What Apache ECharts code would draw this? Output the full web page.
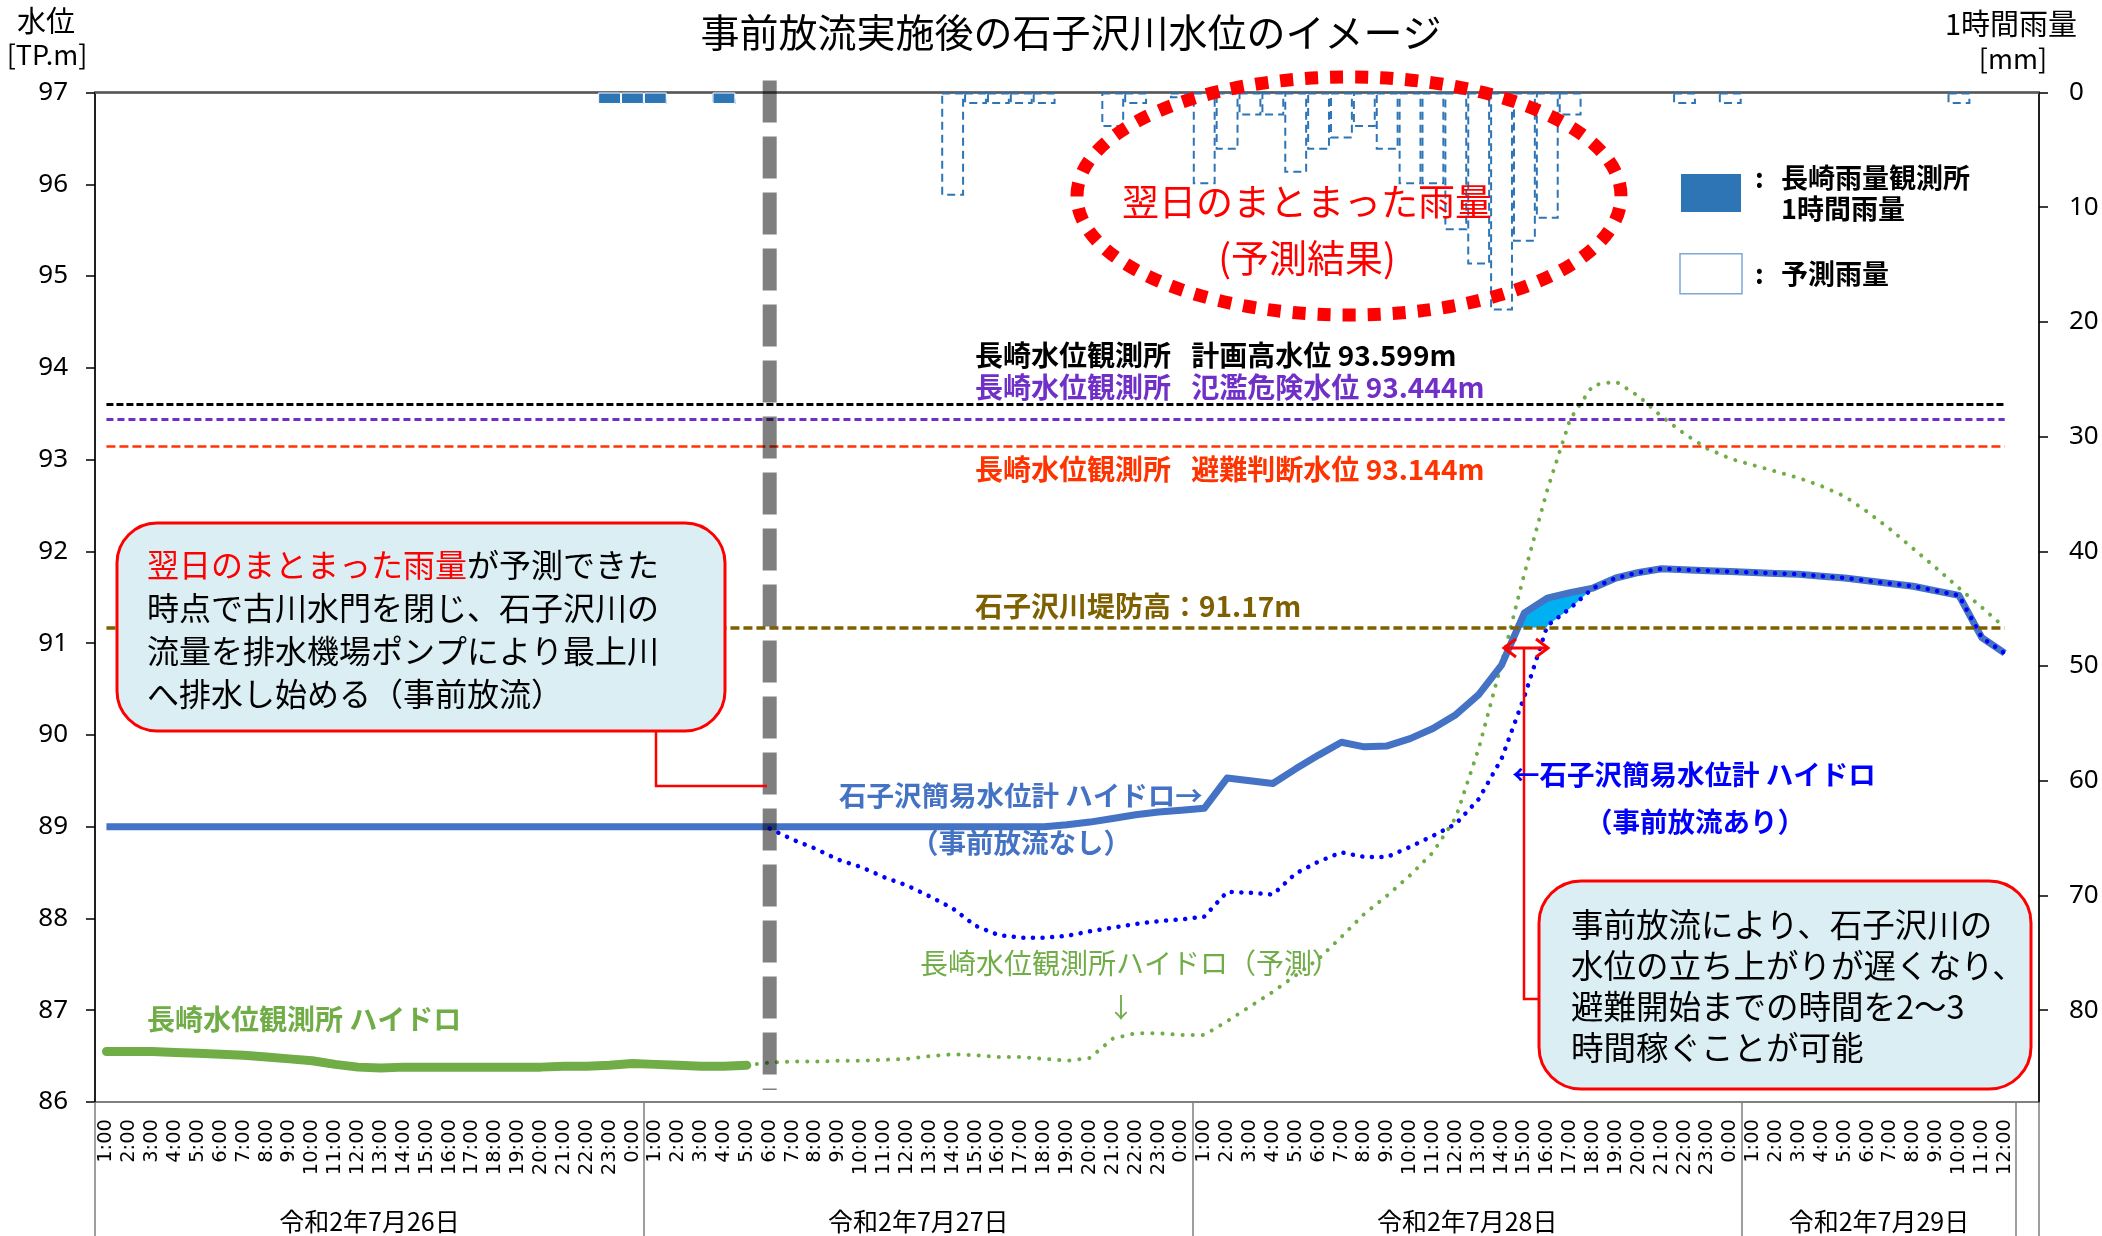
<!DOCTYPE html>
<html>
<head>
<meta charset="utf-8">
<title>事前放流実施後の石子沢川水位のイメージ</title>
<script src="https://cdn.jsdelivr.net/npm/echarts@6/dist/echarts.min.js"></script>
<style>
  html, body { margin: 0; padding: 0; background: #fff; }
  #chart { width: 2102px; height: 1236px; }
</style>
</head>
<body>
<div id="chart"></div>
<script>
// ---- data ----
const hours = [
  "1:00", "2:00", "3:00", "4:00", "5:00", "6:00", "7:00", "8:00", "9:00", "10:00", "11:00", "12:00",
  "13:00", "14:00", "15:00", "16:00", "17:00", "18:00", "19:00", "20:00", "21:00", "22:00", "23:00", "0:00"
];
// 7/26 - 7/28 full days, 7/29 up to 12:00, plus one empty slot at the right edge
const categories = [...hours, ...hours, ...hours, ...hours.slice(0, 12), ""];
const dayLabels = ["令和2年7月26日", "令和2年7月27日", "令和2年7月28日", "令和2年7月29日"];
const dayLabelIndex = [11, 35, 59, 77];
const dayBoundaryIndex = [0, 24, 48, 72, 84];
const releaseIndex = 29; // 7/27 6:00 事前放流開始

const yLeftTicks = [86, 97, 1];
const yRightTicks = [0, 88, 10];

const dikeHeight = 91.17;
const planHighWater = 93.599;
const dangerWater = 93.444;
const evacWater = 93.144;

// 長崎雨量観測所 1時間雨量 (mm)
const rainObserved = [
  null, null, null, null, null, null, null, null, null, null, null, null,
  null, null, null, null, null, null, null, null, null, null, 1, 1,
  1, null, null, 1, null, null, null, null, null, null, null, null,
  null, null, null, null, null, null, null, null, null, null, null, null,
  null, null, null, null, null, null, null, null, null, null, null, null,
  null, null, null, null, null, null, null, null, null, null, null, null,
  null, null, null, null, null, null, null, null, null, null, null, null,
  null
];
// 予測雨量 (mm)
const rainForecast = [
  null, null, null, null, null, null, null, null, null, null, null, null,
  null, null, null, null, null, null, null, null, null, null, 1, 1,
  1, null, null, 1, null, null, null, null, null, null, null, null,
  null, 9, 1, 1, 1, 1, null, null, 3, 1, null, 0.5,
  8, 5, 2, 2, 7, 5, 4, 3, 5, 8, 8, 12,
  15, 19, 13, 11, 2, null, null, null, null, 1, null, 1,
  null, null, null, null, null, null, null, null, null, 1, null, null,
  null
];
// 長崎水位観測所 ハイドロ (実績)
const levelNagasakiObs = [
  86.55, 86.55, 86.55, 86.54, 86.53, 86.52, 86.51, 86.49, 86.47, 86.45, 86.41, 86.38,
  86.37, 86.38, 86.38, 86.38, 86.38, 86.38, 86.38, 86.38, 86.39, 86.39, 86.40, 86.42,
  86.41, 86.40, 86.39, 86.39, 86.40, null, null, null, null, null, null, null,
  null, null, null, null, null, null, null, null, null, null, null, null,
  null, null, null, null, null, null, null, null, null, null, null, null,
  null, null, null, null, null, null, null, null, null, null, null, null,
  null, null, null, null, null, null, null, null, null, null, null, null,
  null
];
// 長崎水位観測所ハイドロ (予測)
const levelNagasakiPred = [
  null, null, null, null, null, null, null, null, null, null, null, null,
  null, null, null, null, null, null, null, null, null, null, null, null,
  null, null, null, null, 86.40, 86.43, 86.44, 86.44, 86.45, 86.45, 86.46, 86.47,
  86.50, 86.52, 86.51, 86.49, 86.49, 86.47, 86.45, 86.48, 86.69, 86.75, 86.75, 86.73,
  86.73, 86.88, 87.04, 87.20, 87.38, 87.56, 87.80, 88.05, 88.25, 88.47, 88.72, 89.10,
  89.85, 90.78, 91.76, 92.67, 93.44, 93.81, 93.85, 93.69, 93.47, 93.28, 93.12, 93.01,
  92.94, 92.87, 92.80, 92.71, 92.60, 92.43, 92.24, 92.03, 91.82, 91.60, 91.39, 91.17,
  null
];
// 石子沢簡易水位計 ハイドロ (事前放流なし)
const levelNoRelease = [
  89.0, 89.0, 89.0, 89.0, 89.0, 89.0, 89.0, 89.0, 89.0, 89.0, 89.0, 89.0,
  89.0, 89.0, 89.0, 89.0, 89.0, 89.0, 89.0, 89.0, 89.0, 89.0, 89.0, 89.0,
  89.0, 89.0, 89.0, 89.0, 89.0, 89.0, 89.0, 89.0, 89.0, 89.0, 89.0, 89.0,
  89.0, 89.0, 89.0, 89.0, 89.0, 89.0, 89.02, 89.05, 89.09, 89.13, 89.16, 89.18,
  89.20, 89.53, 89.50, 89.47, 89.63, 89.78, 89.92, 89.87, 89.88, 89.96, 90.07, 90.22,
  90.44, 90.76, 91.33, 91.49, 91.55, 91.60, 91.71, 91.77, 91.81, 91.80, 91.79, 91.78,
  91.77, 91.76, 91.75, 91.73, 91.71, 91.68, 91.65, 91.62, 91.57, 91.52, 91.06, 90.89,
  null
];
// 石子沢簡易水位計 ハイドロ (事前放流あり)
const levelWithRelease = [
  null, null, null, null, null, null, null, null, null, null, null, null,
  null, null, null, null, null, null, null, null, null, null, null, null,
  null, null, null, null, null, 88.98, 88.86, 88.76, 88.64, 88.56, 88.45, 88.36,
  88.24, 88.11, 87.92, 87.82, 87.79, 87.79, 87.81, 87.86, 87.90, 87.94, 87.97, 87.99,
  88.02, 88.29, 88.28, 88.26, 88.49, 88.62, 88.72, 88.67, 88.67, 88.78, 88.90, 89.03,
  89.30, 89.74, 90.42, 91.19, 91.38, 91.60, 91.71, 91.77, 91.81, 91.80, 91.79, 91.78,
  91.77, 91.76, 91.75, 91.73, 91.71, 91.68, 91.65, 91.62, 91.57, 91.52, 91.06, 90.89,
  null
];

// ---- chart ----
const FONT = '"Noto Sans CJK JP", "Noto Sans", sans-serif';
const chart = echarts.init(document.getElementById("chart"), null, { renderer: "canvas" });

function label(text, x, y, color, size, weight, align) {
  return {
    type: "text", x: x, y: y, z: 100, silent: true,
    style: {
      text: text, fill: color, fontSize: size, fontWeight: weight || "normal",
      fontFamily: FONT, align: align || "left", verticalAlign: "middle"
    }
  };
}

// cyan area: part of the no-release curve above the dike and above the release curve
function renderOverflow(params, api) {
  const s = levelNoRelease, d = levelWithRelease, k = dikeHeight;
  const pt = (i, v) => api.coord([i, v]);
  const lerp = (a, b, t) => [a[0] + (b[0] - a[0]) * t, a[1] + (b[1] - a[1]) * t];
  let j = releaseIndex;
  while (!(s[j] < k && s[j + 1] >= k)) j++;
  const start = lerp(pt(j, s[j]), pt(j + 1, s[j + 1]), (k - s[j]) / (s[j + 1] - s[j]));
  let m = releaseIndex;
  while (!(d[m] < k && d[m + 1] >= k)) m++;
  const cross = lerp(pt(m, d[m]), pt(m + 1, d[m + 1]), (k - d[m]) / (d[m + 1] - d[m]));
  let e = m + 1;
  while (d[e] < s[e]) e++;
  const points = [start];
  for (let i = j + 1; i <= e; i++) points.push(pt(i, s[i]));
  for (let i = e - 1; i > m; i--) points.push(pt(i, d[i]));
  points.push(cross);
  return { type: "polygon", shape: { points: points }, style: { fill: "#00B0F0" } };
}

// gray dashed line at the release time
function renderReleaseLine(params, api) {
  const p1 = api.coord([releaseIndex, 97.13]);
  const p2 = api.coord([releaseIndex, 86.13]);
  return {
    type: "line",
    shape: { x1: p1[0], y1: p1[1], x2: p2[0], y2: p2[1] },
    style: { stroke: "rgba(0,0,0,0.5)", lineWidth: 14, lineDash: [42, 14] }
  };
}

function refLine(value, color, width, dash) {
  return [
    { coord: [0, value], lineStyle: { color: color, width: width, type: dash } },
    { coord: [83, value] }
  ];
}

const legendRich = {
  c: { width: 26, padding: [0, 0, 0, 8], align: "left", fontSize: 27, fontWeight: "bold", fontFamily: FONT, color: "#000" },
  t: { align: "left", fontSize: 27, fontWeight: "bold", fontFamily: FONT, color: "#000", lineHeight: 31 }
};

chart.setOption({
  animation: false,
  backgroundColor: "#fff",
  textStyle: { fontFamily: FONT },
  title: {
    text: "事前放流実施後の石子沢川水位のイメージ",
    left: 1071, top: 13, textAlign: "center", padding: 0,
    textStyle: { fontSize: 39, fontWeight: "normal", color: "#000", fontFamily: FONT }
  },
  legend: {
    data: [
      { name: "長崎雨量観測所1時間雨量" },
      { name: "予測雨量", itemStyle: { color: "#fff", borderColor: "#7FA7D6", borderWidth: 1.5, borderType: "solid" } }
    ],
    left: 1674, top: 157, orient: "vertical", icon: "rect",
    itemWidth: 62, itemHeight: 40, itemGap: 29, selectedMode: false,
    formatter: function (name) {
      return name === "予測雨量" ? "{c|:}{t|予測雨量}" : "{c|:}{t|長崎雨量観測所}\n{c|\u00a0}{t|1時間雨量}";
    },
    textStyle: { fontSize: 27, fontWeight: "bold", color: "#000", lineHeight: 31, align: "left", rich: legendRich }
  },
  grid: { left: 95, right: 63, top: 92.5, bottom: 134, show: true, borderColor: "#808080", borderWidth: 2, containLabel: false, outerBoundsMode: "none" },
  xAxis: [
    {
      type: "category", data: categories, position: "bottom", boundaryGap: true,
      axisLine: { lineStyle: { color: "#595959", width: 2.5 } },
      axisTick: { show: false },
      axisLabel: { interval: 0, rotate: 90, margin: 17, fontSize: 19.5, fontFamily: "DejaVu Sans", color: "#000" },
      splitLine: { show: false }
    },
    {
      type: "category", data: categories, position: "bottom", boundaryGap: true,
      axisLine: { show: false },
      axisTick: {
        show: true, length: 134,
        interval: function (i) { return dayBoundaryIndex.indexOf(i) >= 0; },
        lineStyle: { color: "#7f7f7f", width: 1.5 }
      },
      axisLabel: {
        interval: function (i) { return dayLabelIndex.indexOf(i) >= 0; },
        formatter: function (v, i) { return dayLabels[dayLabelIndex.indexOf(i)]; },
        margin: 107, fontSize: 25, color: "#000", fontFamily: FONT, padding: [0, 0, 0, 22.87]
      },
      splitLine: { show: false }
    }
  ],
  yAxis: [
    {
      type: "value", position: "left", min: yLeftTicks[0], max: yLeftTicks[1], interval: yLeftTicks[2],
      axisLine: { show: true, lineStyle: { color: "#000", width: 1.5 } },
      axisTick: { show: true, length: 9, lineStyle: { color: "#000", width: 1.5 } },
      axisLabel: { margin: 27, fontSize: 26, fontFamily: "Noto Sans", color: "#000" },
      splitLine: { show: false }
    },
    {
      type: "value", position: "right", inverse: true, min: yRightTicks[0], max: yRightTicks[1], interval: yRightTicks[2],
      axisLine: { show: true, lineStyle: { color: "#000", width: 1.5 } },
      axisTick: { show: true, length: 9, lineStyle: { color: "#000", width: 1.5 } },
      axisLabel: { margin: 30, fontSize: 26, fontFamily: "Noto Sans", color: "#000", showMaxLabel: false },
      splitLine: { show: false }
    }
  ],
  series: [
    {
      name: "予測雨量", type: "bar", xAxisIndex: 0, yAxisIndex: 1, data: rainForecast,
      barWidth: "100%", barGap: "-100%", silent: true,
      itemStyle: { color: "rgba(255,255,255,0)", borderColor: "#2E75B6", borderWidth: 2, borderType: [8, 5] }
    },
    {
      name: "長崎雨量観測所1時間雨量", type: "bar", xAxisIndex: 0, yAxisIndex: 1, data: rainObserved,
      barWidth: "100%", barGap: "-100%", silent: true,
      itemStyle: { color: "#2E75B6", borderColor: "#fff", borderWidth: 1 }
    },
    {
      type: "custom", xAxisIndex: 0, yAxisIndex: 0, data: [[0, 0]], silent: true,
      renderItem: renderOverflow, z: 2
    },
    {
      name: "長崎水位観測所 ハイドロ", type: "line", data: levelNagasakiObs, symbol: "none", silent: true,
      lineStyle: { color: "#70AD47", width: 9, cap: "round", join: "round" },
      markLine: {
        silent: true, symbol: ["none", "none"], label: { show: false },
        data: [
          refLine(planHighWater, "#000", 3, [7, 3]),
          refLine(dangerWater, "#7030C8", 3, [7, 4]),
          refLine(evacWater, "#FF3300", 2.5, [9, 4]),
          refLine(dikeHeight, "#7F6000", 3.5, [9, 4])
        ]
      }
    },
    {
      name: "長崎水位観測所ハイドロ（予測）", type: "line", data: levelNagasakiPred, symbol: "none", silent: true,
      lineStyle: { color: "#70AD47", width: 4, type: [0.1, 10], cap: "round" }
    },
    {
      name: "石子沢簡易水位計 ハイドロ（事前放流なし）", type: "line", data: levelNoRelease, symbol: "none", silent: true,
      lineStyle: { color: "#4472C4", width: 7, join: "round" }
    },
    {
      name: "石子沢簡易水位計 ハイドロ（事前放流あり）", type: "line", data: levelWithRelease, symbol: "none", silent: true,
      lineStyle: { color: "#0000FF", width: 4.5, type: [0.1, 9.5], cap: "round" }
    },
    {
      type: "custom", xAxisIndex: 0, yAxisIndex: 0, data: [[releaseIndex, 89]], silent: true,
      renderItem: renderReleaseLine, z: 5
    }
  ],
  graphic: [
    label("水位", 46, 21, "#000", 29, "normal", "center"),
    label("[TP.m]", 47, 55, "#000", 27, "normal", "center"),
    label("1時間雨量", 2011, 24, "#000", 29, "normal", "center"),
    label("[mm]", 2013, 59, "#000", 27, "normal", "center"),

    {
      type: "ellipse", z: 90, silent: true,
      shape: { cx: 1349, cy: 196, rx: 272, ry: 119 },
      style: { fill: "none", stroke: "#FF0000", lineWidth: 13, lineDash: [13, 12] }
    },
    label("翌日のまとまった雨量", 1307, 202, "#FF0000", 37, "normal", "center"),
    label("(予測結果)", 1307, 258, "#FF0000", 38, "normal", "center"),

    label("長崎水位観測所\u2002 計画高水位 93.599m", 975, 355, "#000", 28, "bold"),
    label("長崎水位観測所\u2002 氾濫危険水位 93.444m", 975, 387, "#7030C8", 28, "bold"),
    label("長崎水位観測所\u2002 避難判断水位 93.144m", 975, 469, "#FF3300", 28, "bold"),
    label("石子沢川堤防高：91.17m", 975, 606, "#7F6000", 28, "bold"),

    label("石子沢簡易水位計 ハイドロ→", 839, 796, "#4472C4", 27.5, "bold"),
    label("（事前放流なし）", 911, 843, "#4472C4", 27.5, "bold"),
    label("←石子沢簡易水位計 ハイドロ", 1512, 775, "#0000FF", 27.5, "bold"),
    label("（事前放流あり）", 1585, 822, "#0000FF", 27.5, "bold"),
    label("長崎水位観測所ハイドロ（予測）", 920, 963, "#70AD47", 28, "normal"),
    label("↓", 1121, 1008, "#70AD47", 27, "normal", "center"),
    label("長崎水位観測所 ハイドロ", 147, 1019, "#70AD47", 28, "bold"),

    // left callout
    {
      type: "polyline", z: 95, silent: true,
      shape: { points: [[656, 731], [656, 786], [767, 786]] },
      style: { stroke: "#FF0000", lineWidth: 2.5, fill: "none" }
    },
    {
      type: "rect", z: 96, silent: true,
      shape: { x: 117, y: 523, width: 608, height: 208, r: 40 },
      style: { fill: "#DAEEF3", stroke: "#FF0000", lineWidth: 3 }
    },
    {
      type: "text", z: 100, silent: true, x: 147, y: 543,
      style: {
        text: "{r|翌日のまとまった雨量}が予測できた\n時点で古川水門を閉じ、石子沢川の\n流量を排水機場ポンプにより最上川\nへ排水し始める（事前放流）",
        fill: "#000", fontSize: 32, fontFamily: FONT, lineHeight: 43, align: "left", verticalAlign: "top",
        rich: { r: { fill: "#FF0000", fontSize: 32, fontFamily: FONT, lineHeight: 43 } }
      }
    },

    // right callout with the delay arrow
    {
      type: "polyline", z: 95, silent: true,
      shape: { points: [[1524, 648], [1524, 999], [1540, 999]] },
      style: { stroke: "#FF0000", lineWidth: 2.5, fill: "none" }
    },
    {
      type: "polyline", z: 95, silent: true,
      shape: { points: [[1504, 648], [1548, 648]] },
      style: { stroke: "#FF0000", lineWidth: 3, fill: "none" }
    },
    {
      type: "polyline", z: 95, silent: true,
      shape: { points: [[1516, 639], [1504, 648], [1516, 657]] },
      style: { stroke: "#FF0000", lineWidth: 3, fill: "none" }
    },
    {
      type: "polyline", z: 95, silent: true,
      shape: { points: [[1536, 639], [1548, 648], [1536, 657]] },
      style: { stroke: "#FF0000", lineWidth: 3, fill: "none" }
    },
    {
      type: "rect", z: 96, silent: true,
      shape: { x: 1539, y: 881, width: 492, height: 208, r: 42 },
      style: { fill: "#DAEEF3", stroke: "#FF0000", lineWidth: 3 }
    },
    {
      type: "text", z: 100, silent: true, x: 1571, y: 904,
      style: {
        text: "事前放流により、石子沢川の\n水位の立ち上がりが遅くなり、\n避難開始までの時間を2〜3\n時間稼ぐことが可能",
        fill: "#000", fontSize: 32.5, fontFamily: FONT, lineHeight: 41, align: "left", verticalAlign: "top"
      }
    }
  ]
});
</script>
</body>
</html>
